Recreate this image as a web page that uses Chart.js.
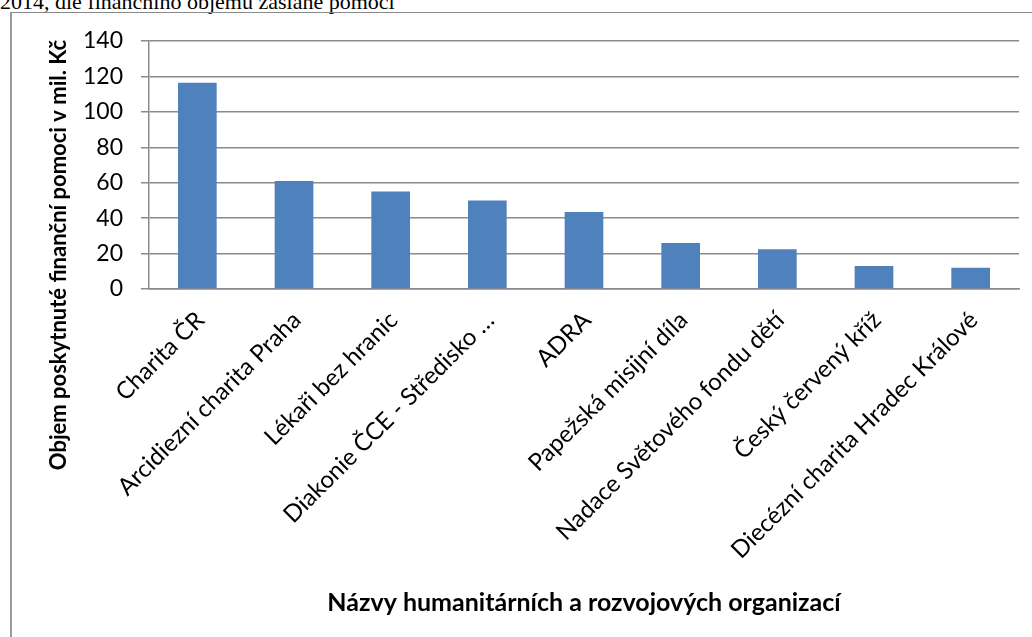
<!DOCTYPE html>
<html>
<head>
<meta charset="utf-8">
<script src="https://cdn.jsdelivr.net/npm/chart.js@4.4.1/dist/chart.umd.min.js"></script>
<style>
  html, body { margin: 0; padding: 0; background: #fff; width: 1032px; height: 637px; overflow: hidden; }
  #caption { position: absolute; left: 0; top: -9px; font-family: "Liberation Serif", serif; font-size: 22px; line-height: 22px; color: #000; white-space: nowrap; }
  #frame { position: absolute; left: 10px; top: 12px; width: 1100px; height: 700px; border-left: 2px solid #9a9a9a; border-top: 1px solid #8a8a8a; box-sizing: border-box; }
  #wrap { position: absolute; left: 0; top: 0; width: 1032px; height: 637px; }
</style>
</head>
<body>
<div id="caption">2014, dle finančního objemu zaslané pomoci</div>
<div id="frame"></div>
<div id="wrap"><canvas id="c"></canvas></div>
<script>
const categories = [
  "Charita ČR",
  "Arcidiezní charita Praha",
  "Lékaři bez hranic",
  "Diakonie ČCE - Středisko …",
  "ADRA",
  "Papežská misijní díla",
  "Nadace Světového fondu dětí",
  "Český červený kříž",
  "Diecézní charita Hradec Králové"
];
const values = [116.5, 61, 55, 50, 43.5, 26, 22.5, 13, 12];
const yTicks = [0, 20, 40, 60, 80, 100, 120, 140];
const yTitle = "Objem poskytnuté finanční pomoci v mil. Kč";
const xTitle = "Názvy humanitárních a rozvojových organizací";

const gridColor = "#8a8a8a";

const yTitlePlugin = {
  id: 'yTitlePlugin',
  afterDraw(chart) {
    const ctx = chart.ctx;
    const area = chart.chartArea;
    ctx.save();
    ctx.font = "bold 22px Lato";
    ctx.fillStyle = "#000";
    ctx.textAlign = "center";
    ctx.textBaseline = "middle";
    ctx.translate(59, area.bottom - 34);
    ctx.rotate(-Math.PI / 2);
    ctx.fillText(yTitle, 0, 0);
    ctx.restore();
  }
};

// nudge rotated category labels to the right, as the reference anchors them
const labelNudge = {
  id: 'labelNudge',
  beforeDraw(chart) {
    const s = chart.scales.x;
    const items = s.getLabelItems(chart.chartArea);
    items.forEach(it => {
      if (!it._nudged) { it.options.translation[0] += 3; it._nudged = true; }
    });
  }
};

new Chart(document.getElementById('c'), {
  type: 'bar',
  data: {
    labels: categories,
    datasets: [{
      data: values,
      backgroundColor: '#4F81BD',
      borderWidth: 0,
      categoryPercentage: 1.0,
      barPercentage: 0.4
    }]
  },
  options: {
    responsive: true,
    maintainAspectRatio: false,
    animation: false,
    layout: { padding: { top: 41, right: 13, bottom: 0, left: 0 } },
    plugins: { legend: { display: false }, tooltip: { enabled: false } },
    scales: {
      x: {
        grid: { display: false, drawTicks: false },
        border: { display: true, color: gridColor, width: 1.5 },
        ticks: {
          color: '#000',
          font: { family: 'Lato', size: 24 },
          minRotation: 45,
          maxRotation: 45,
          autoSkip: false,
          padding: 17
        },
        title: {
          display: true,
          text: xTitle,
          color: '#000',
          font: { family: 'Lato', size: 25, weight: 'bold' },
          padding: { top: 0, bottom: 19 }
        },
        afterFit(scale) { scale.height = 637 - 289; }
      },
      y: {
        min: 0,
        max: 140,
        afterBuildTicks(scale) { scale.ticks = yTicks.map(v => ({ value: v })); },
        grid: { color: gridColor, lineWidth: 1.5, drawTicks: true, tickLength: 8 },
        border: { display: true, color: gridColor, width: 1.5 },
        ticks: {
          color: '#000',
          font: { family: 'Lato', size: 23 },
          padding: 18
        },
        afterFit(scale) { scale.width = 149; }
      }
    }
  },
  plugins: [yTitlePlugin, labelNudge]
});
</script>
</body>
</html>
